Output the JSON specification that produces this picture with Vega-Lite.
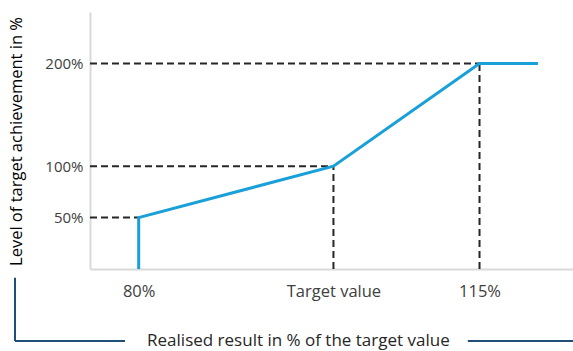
{
  "$schema": "https://vega.github.io/schema/vega-lite/v6.json",
  "autosize": {"type": "none"},
  "padding": {"left": 90, "top": 12, "right": 0, "bottom": 82},
  "width": 483,
  "height": 257,
  "background": "white",
  "config": {
    "view": {"stroke": null},
    "font": "Open Sans",
    "axis": {"grid": false, "ticks": false, "domainColor": "#d9d9d9", "domainWidth": 2, "labelColor": "#404040", "labelFontSize": 15, "labelFont": "Open Sans", "titleFont": "Open Sans", "titleColor": "#000000", "titleFontWeight": "normal"}
  },
  "datasets": {
    "curve": [
      {"result": 80, "achievement": 0, "order": 1},
      {"result": 80, "achievement": 50, "order": 2},
      {"result": 100, "achievement": 100, "order": 3},
      {"result": 115, "achievement": 200, "order": 4},
      {"result": 121, "achievement": 200, "order": 5}
    ],
    "guides": [
      {"x1": 75, "x2": 80, "y1": 50, "y2": 50},
      {"x1": 75, "x2": 100, "y1": 100, "y2": 100},
      {"x1": 75, "x2": 115, "y1": 200, "y2": 200},
      {"x1": 100, "x2": 100, "y1": 0, "y2": 100},
      {"x1": 115, "x2": 115, "y1": 0, "y2": 200}
    ],
    "bracket": [
      {"x1": 67.3, "x2": 67.3, "y1": -8.5, "y2": -70},
      {"x1": 67.3, "x2": 78.6, "y1": -70, "y2": -70},
      {"x1": 113.8, "x2": 124.6, "y1": -70, "y2": -70}
    ],
    "caption": [
      {"x": 96.4, "y": -70, "text": "Realised result in % of the target value"}
    ]
  },
  "layer": [
    {
      "data": {"name": "guides"},
      "mark": {"type": "rule", "color": "#262626", "strokeWidth": 2, "strokeDash": [7, 4]},
      "encoding": {
        "x": {"field": "x1", "type": "quantitative", "scale": {"domain": [75, 124.6], "nice": false, "zero": false},
          "axis": {"values": [80, 100, 115], "labelExpr": "datum.value == 100 ? 'Target value' : datum.value + '%'", "labelPadding": 14, "labelFontSize": 16.5, "title": null}},
        "x2": {"field": "x2"},
        "y": {"field": "y1", "type": "quantitative", "scale": {"domain": [0, 250], "nice": false},
          "axis": {"values": [50, 100, 200], "labelExpr": "datum.value + '%'", "labelPadding": 7,
            "title": "Level of target achievement in %", "titleFontSize": 16.5, "titleX": -74, "titleY": 129, "titleAngle": -90, "titleAlign": "center", "titleBaseline": "middle"}},
        "y2": {"field": "y2"}
      }
    },
    {
      "data": {"name": "curve"},
      "mark": {"type": "line", "color": "#1aa0d8", "strokeWidth": 3},
      "encoding": {
        "x": {"field": "result", "type": "quantitative"},
        "y": {"field": "achievement", "type": "quantitative"},
        "order": {"field": "order", "type": "quantitative"}
      }
    },
    {
      "data": {"name": "bracket"},
      "mark": {"type": "rule", "color": "#1f4e79", "strokeWidth": 2, "clip": false},
      "encoding": {
        "x": {"field": "x1", "type": "quantitative"},
        "x2": {"field": "x2"},
        "y": {"field": "y1", "type": "quantitative"},
        "y2": {"field": "y2"}
      }
    },
    {
      "data": {"name": "caption"},
      "mark": {"type": "text", "fontSize": 17, "color": "#262626", "font": "Open Sans", "baseline": "middle", "align": "center", "clip": false},
      "encoding": {
        "x": {"field": "x", "type": "quantitative"},
        "y": {"field": "y", "type": "quantitative"},
        "text": {"field": "text"}
      }
    }
  ]
}
